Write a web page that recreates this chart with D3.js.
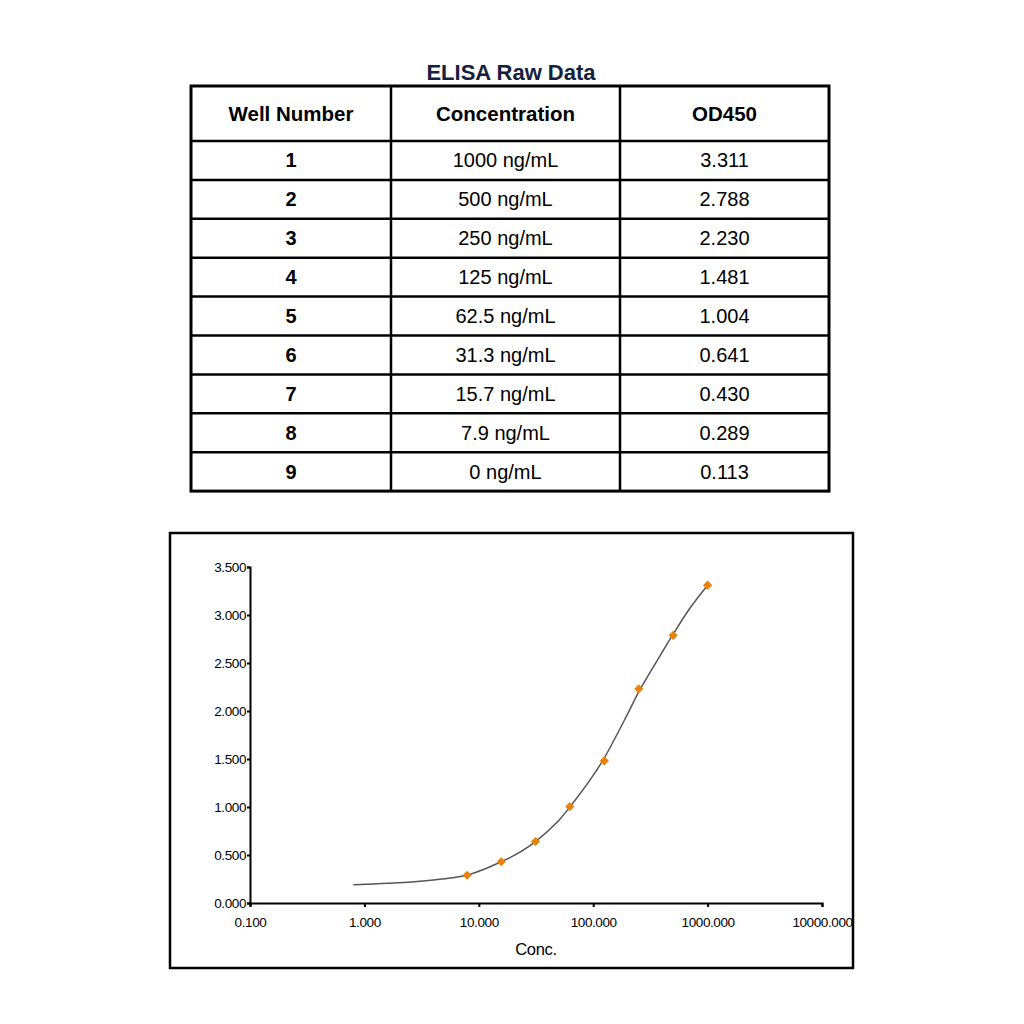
<!DOCTYPE html>
<html lang="en">
<head>
    <meta charset="UTF-8">
    <title>ELISA Raw Data</title>
    <script src="https://d3js.org/d3.v7.min.js"></script>
    <style>
        body { margin: 0; background: #fff; font-family: "Liberation Sans", Arial, sans-serif; }
        svg text { font-family: "Liberation Sans", Arial, sans-serif; }
    </style>
</head>
<body>
    <svg id="page" width="1024" height="1024"></svg>

    <script>
        // table data
        const headers = ["Well Number", "Concentration", "OD450"];
        const wells = ["1", "2", "3", "4", "5", "6", "7", "8", "9"];
        const concLabels = ["1000 ng/mL", "500 ng/mL", "250 ng/mL", "125 ng/mL", "62.5 ng/mL",
                            "31.3 ng/mL", "15.7 ng/mL", "7.9 ng/mL", "0 ng/mL"];
        const odLabels = ["3.311", "2.788", "2.230", "1.481", "1.004", "0.641", "0.430", "0.289", "0.113"];

        // plotted standards (0 ng/mL can't go on a log axis)
        const stdConc = [1000, 500, 250, 125, 62.5, 31.3, 15.7, 7.9];
        const stdOD = [3.311, 2.788, 2.230, 1.481, 1.004, 0.641, 0.430, 0.289];

        // fitted curve
        const fitConc = [0.8, 1, 2, 4, 7.9, 10, 15.7, 20, 31.3, 50, 62.5, 100, 125, 200, 250, 400, 500, 700, 1000];
        const fitOD = [0.19, 0.195, 0.21, 0.24, 0.29, 0.33, 0.43, 0.49, 0.64, 0.86, 1.00, 1.33, 1.51, 1.97, 2.20, 2.61, 2.80, 3.07, 3.31];

        const xTicks = [0.1, 1, 10, 100, 1000, 10000];
        const yTicks = [0, 0.5, 1, 1.5, 2, 2.5, 3, 3.5];

        const svg = d3.select("#page");

        // ---- table ----
        const tX = [191, 391, 620, 829];
        const tTop = 86, headH = 55, rowH = 38.9;
        const rows = wells.map((w, i) => [w, concLabels[i], odLabels[i]]);
        const tBottom = tTop + headH + rowH * rows.length;

        svg.append("text")
            .attr("x", 511).attr("y", 80)
            .attr("text-anchor", "middle")
            .attr("font-size", 22).attr("font-weight", "bold")
            .attr("fill", "#14213d")
            .text("ELISA Raw Data");

        const table = svg.append("g");
        table.append("rect")
            .attr("x", tX[0]).attr("y", tTop)
            .attr("width", tX[3] - tX[0]).attr("height", tBottom - tTop)
            .attr("fill", "none").attr("stroke", "#000").attr("stroke-width", 3);

        tX.slice(1, 3).forEach(x => {
            table.append("line")
                .attr("x1", x).attr("x2", x).attr("y1", tTop).attr("y2", tBottom)
                .attr("stroke", "#000").attr("stroke-width", 2.5);
        });
        d3.range(rows.length).forEach(i => {
            const y = tTop + headH + rowH * i;
            table.append("line")
                .attr("x1", tX[0]).attr("x2", tX[3]).attr("y1", y).attr("y2", y)
                .attr("stroke", "#000").attr("stroke-width", 2.5);
        });

        headers.forEach((h, c) => {
            table.append("text")
                .attr("x", (tX[c] + tX[c + 1]) / 2)
                .attr("y", tTop + headH / 2 + 7)
                .attr("text-anchor", "middle")
                .attr("font-size", 20.5).attr("font-weight", "bold")
                .text(h);
        });

        rows.forEach((r, i) => {
            r.forEach((v, c) => {
                table.append("text")
                    .attr("x", (tX[c] + tX[c + 1]) / 2)
                    .attr("y", tTop + headH + rowH * i + rowH / 2 + 7)
                    .attr("text-anchor", "middle")
                    .attr("font-size", 20)
                    .attr("font-weight", c === 0 ? "bold" : "normal")
                    .text(v);
            });
        });

        // ---- chart ----
        svg.append("rect")
            .attr("x", 170).attr("y", 533).attr("width", 683).attr("height", 435)
            .attr("fill", "none").attr("stroke", "#000").attr("stroke-width", 2.5);

        const x = d3.scaleLog().domain([0.1, 10000]).range([250, 822]);
        const y = d3.scaleLinear().domain([0, 3.5]).range([903, 567]);

        const xAxis = svg.append("g")
            .attr("transform", "translate(0,903)")
            .call(d3.axisBottom(x).tickValues(xTicks).tickFormat(d3.format(".3f")).tickSize(4));
        const yAxis = svg.append("g")
            .attr("transform", "translate(250,0)")
            .call(d3.axisLeft(y).tickValues(yTicks).tickFormat(d3.format(".3f")).tickSize(3));

        [xAxis, yAxis].forEach(a => {
            a.select(".domain").attr("stroke", "#000").attr("stroke-width", 2);
            a.selectAll(".tick line").attr("stroke", "#000").attr("stroke-width", 2);
            a.selectAll(".tick text").attr("font-size", 13.5).attr("fill", "#000")
                .attr("font-family", "'Liberation Sans', Arial, sans-serif")
                .attr("letter-spacing", "-0.4");
        });
        xAxis.selectAll(".tick text").attr("dy", "1.25em");
        yAxis.selectAll(".tick text").attr("dx", "0.15em");

        svg.append("text")
            .attr("x", 536).attr("y", 955)
            .attr("text-anchor", "middle")
            .attr("font-size", 16.5)
            .attr("letter-spacing", "-0.3")
            .text("Conc.");

        const line = d3.line()
            .x((d, i) => x(fitConc[i]))
            .y(d => y(d))
            .curve(d3.curveCatmullRom.alpha(0.5));

        svg.append("path")
            .datum(fitOD)
            .attr("d", line)
            .attr("fill", "none")
            .attr("stroke", "#555")
            .attr("stroke-width", 1.5);

        svg.append("g").selectAll("path")
            .data(stdOD)
            .join("path")
            .attr("d", d3.symbol(d3.symbolSquare, 42))
            .attr("transform", (d, i) => `translate(${x(stdConc[i])},${y(d)}) rotate(45)`)
            .attr("fill", "#e8820c");
    </script>
</body>
</html>
